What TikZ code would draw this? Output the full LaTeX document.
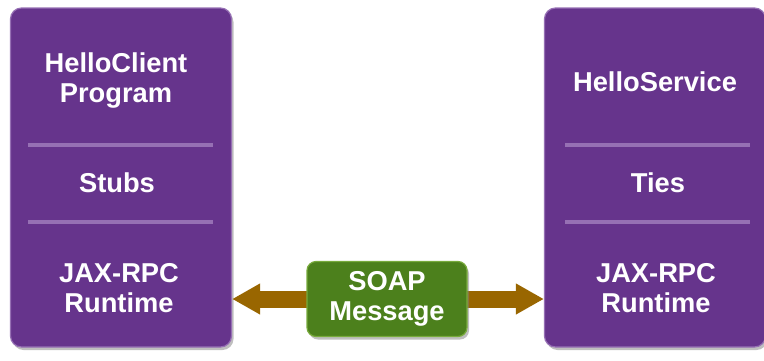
\documentclass[tikz,border=0pt]{standalone}
\usepackage{fontspec}
\setmainfont{Liberation Sans}
\usepackage{tikz}
\usetikzlibrary{arrows.meta, positioning, shadows}
\usepackage{xcolor}
\definecolor{jaxpurple}{RGB}{102,52,140}
\definecolor{rimpurple}{RGB}{150,112,180}
\definecolor{soapgreen}{RGB}{76,128,28}
\definecolor{rimgreen}{RGB}{120,170,60}
\definecolor{wirebrown}{RGB}{153,102,0}

\tikzset{
  tier/.style={draw=rimpurple, line width=1.2pt, fill=jaxpurple, rounded corners=11pt,
    minimum width=221pt, minimum height=339pt, inner sep=0pt,
    drop shadow={shadow xshift=2pt, shadow yshift=-3pt, opacity=0.5}},
  layer/.style={text=white, align=center, font=\bfseries\fontsize{27.3}{30}\selectfont},
  divider/.style={rimpurple, line width=4pt},
  msgbox/.style={draw=rimgreen, line width=1.2pt, fill=soapgreen, rounded corners=9pt,
    minimum width=160pt, minimum height=75pt, inner sep=0pt,
    drop shadow={shadow xshift=2pt, shadow yshift=-3pt, opacity=0.5}},
  wire/.style={wirebrown, line width=17pt, -{Triangle[length=28pt, width=29pt]}},
}

\begin{document}
\begin{tikzpicture}[x=1pt, y=-1pt]
  \useasboundingbox (0,0) rectangle (764,360);
  % Client side
  \node[tier] (client) at (121,177.5) {};
  \node[layer] (prog) at (116,80) {HelloClient\\Program};
  \node[layer] (stubs) at (117,183) {Stubs};
  \node[layer] (crt) at (119,288) {JAX-RPC\\Runtime};
  \draw[divider] (28,145) -- (213,145);
  \draw[divider] (28,222) -- (213,222);
  % Service side
  \node[tier] (service) at (655,177.5) {};
  \node[layer] (svc) at (655,82) {HelloService};
  \node[layer] (ties) at (658,183) {Ties};
  \node[layer] (srt) at (656,288) {JAX-RPC\\Runtime};
  \draw[divider] (565,145) -- (750,145);
  \draw[divider] (565,222) -- (750,222);
  % Message exchange
  \coordinate (mid) at (387,299);
  \draw[wire] (mid) -- (mid -| client.east);
  \draw[wire] (mid) -- (mid -| service.west);
  \node[msgbox] (soap) at (mid) {};
  \node[layer] (msg) at (soap) {SOAP\\Message};
\end{tikzpicture}
\end{document}
